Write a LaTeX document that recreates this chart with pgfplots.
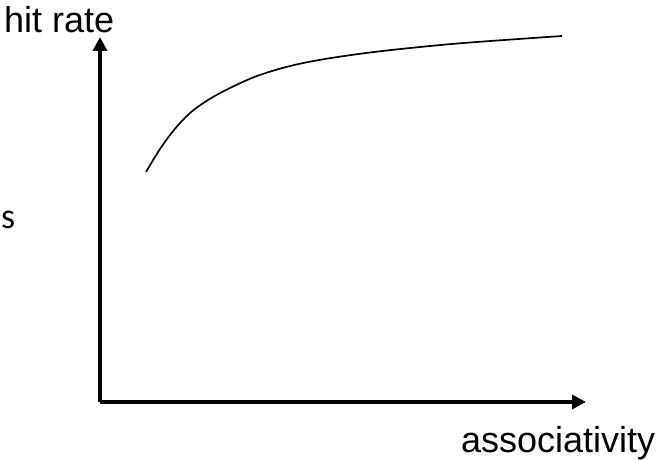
\documentclass[border=0pt]{standalone}
\usepackage{pgfplots}
\pgfplotsset{compat=1.18}
\usepackage{fontspec}
\setmainfont{Liberation Sans}
\newfontfamily\carlito{Carlito}
\usetikzlibrary{arrows.meta}
\begin{document}
\begin{tikzpicture}[x=1pt,y=1pt]
\useasboundingbox (0,0) rectangle (657,459);
\begin{axis}[
  at={(100pt,57pt)}, anchor=origin,
  scale only axis, width=486pt, height=365pt,
  xmin=0, xmax=486, ymin=0, ymax=365,
  axis lines=left, ticks=none, clip=false,
  axis line style={line width=3.5pt, -{Triangle[length=14pt,width=14pt]}},
]
\addplot[black, line width=1.7pt, smooth, tension=0.55] coordinates {
 (46,230) (60,253) (74,272) (90,289) (108,302) (130,314) (157,326) (190,336) (225,343) (270,349.5) (320,355) (370,359.5) (462,366)
};
\end{axis}
\node[anchor=base west, inner sep=0pt, font=\fontsize{36}{40}\selectfont] at (4,426) {hit rate};
\node[anchor=base west, inner sep=0pt, font=\fontsize{36}{40}\selectfont\carlito] at (1,231) {s};
\node[anchor=base west, inner sep=0pt, font=\fontsize{36}{40}\selectfont] at (461,7) {associativity};
\end{tikzpicture}
\end{document}
